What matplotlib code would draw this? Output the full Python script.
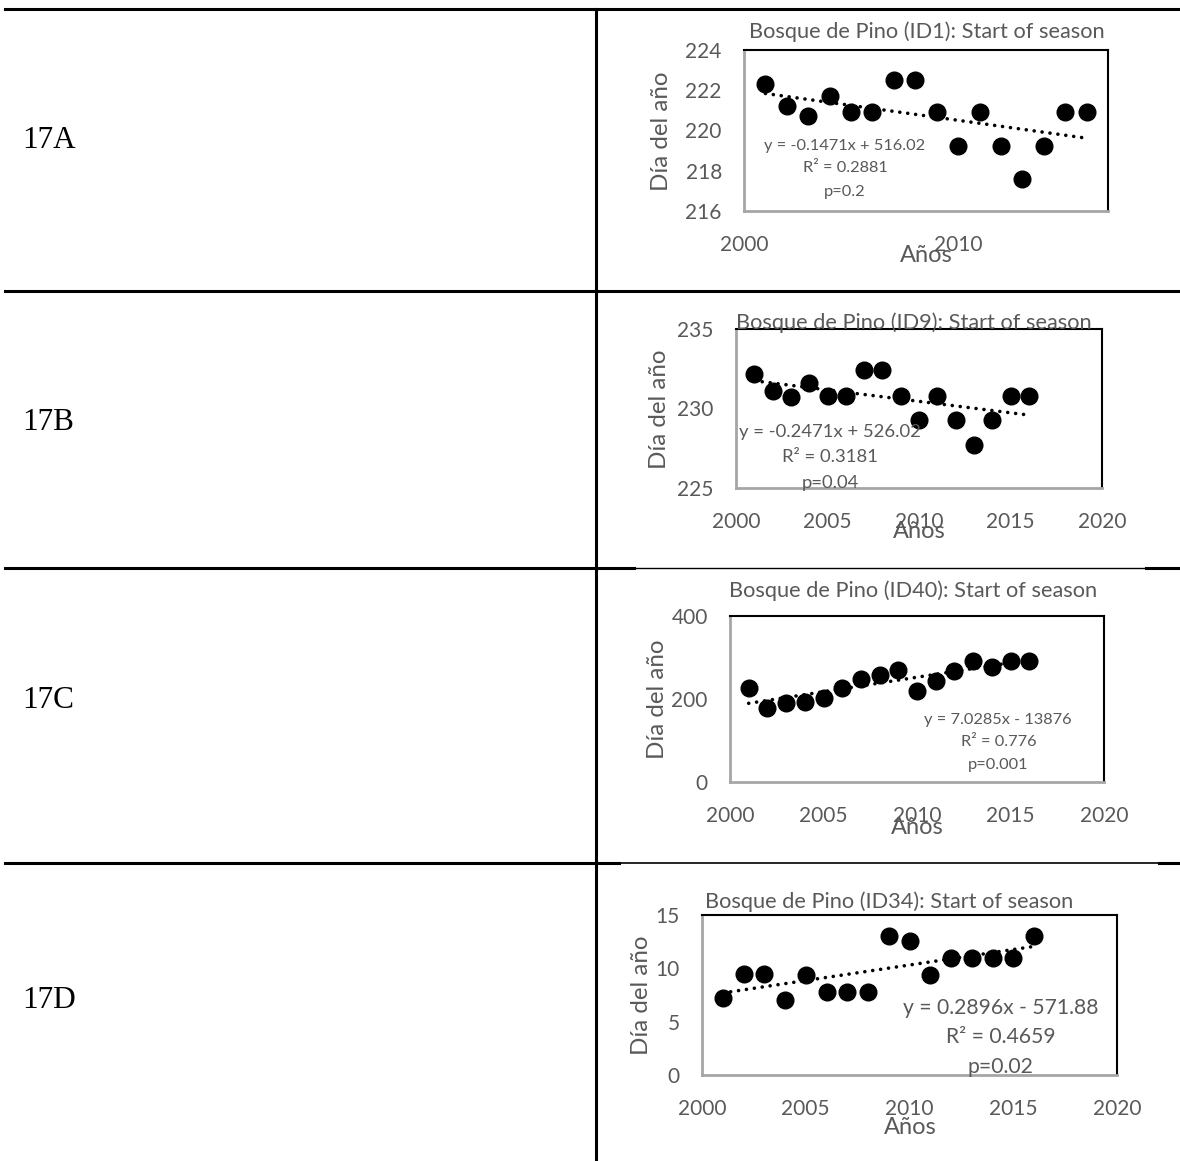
import numpy as np
import matplotlib
matplotlib.use("Agg")
import matplotlib.pyplot as plt

plt.rcParams['font.family'] = ['Lato', 'DejaVu Sans']

# ---- data ----
years = [2001, 2002, 2003, 2004, 2005, 2006, 2007, 2008,
         2009, 2010, 2011, 2012, 2013, 2014, 2015, 2016]

sos_id1 = [222.3, 221.2, 220.7, 221.7, 220.9, 220.9, 222.5, 222.5,
           220.9, 219.25, 220.9, 219.25, 217.6, 219.25, 220.9, 220.9]
sos_id9 = [232.2, 231.1, 230.7, 231.6, 230.8, 230.8, 232.4, 232.4,
           230.8, 229.25, 230.8, 229.25, 227.7, 229.25, 230.8, 230.8]
sos_id40 = [226, 179, 191, 192, 203, 226, 247, 257,
            269, 220, 243, 268, 291, 278, 291, 291]
sos_id34 = [7.2, 9.5, 9.5, 7.0, 9.4, 7.8, 7.8, 7.8,
            13.0, 12.6, 9.4, 11.0, 11.0, 11.0, 11.0, 13.0]

row_labels = ["17A", "17B", "17C", "17D"]
titles = ["Bosque de Pino (ID1): Start of season",
          "Bosque de Pino (ID9): Start of season",
          "Bosque de Pino (ID40): Start of season",
          "Bosque de Pino (ID34): Start of season"]
equations = [["y = -0.1471x + 516.02", "R\u00b2 = 0.2881", "p=0.2"],
             ["y = -0.2471x + 526.02", "R\u00b2 = 0.3181", "p=0.04"],
             ["y = 7.0285x - 13876", "R\u00b2 = 0.776", "p=0.001"],
             ["y = 0.2896x - 571.88", "R\u00b2 = 0.4659", "p=0.02"]]
ylims = [(216, 224), (225, 235), (0, 400), (0, 15)]
yticks = [[216, 218, 220, 222, 224], [225, 230, 235], [0, 200, 400], [0, 5, 10, 15]]
xlims = [(2000, 2017), (2000, 2020), (2000, 2020), (2000, 2020)]
xticks = [[2000, 2010], [2000, 2005, 2010, 2015, 2020],
          [2000, 2005, 2010, 2015, 2020], [2000, 2005, 2010, 2015, 2020]]
series = [sos_id1, sos_id9, sos_id40, sos_id34]

# ---- layout (pixels) ----
W, H = 1180, 1161
fig = plt.figure(figsize=(W / 100, H / 100), dpi=100)

# plot-area boxes: left, top, right, bottom
boxes = [(744, 50, 1108, 211), (736, 329, 1102, 488),
         (730, 616, 1104, 782), (702, 915, 1117, 1075)]
title_pos = [(927, 32), (914, 323), (913, 591), (889, 902)]
ylab_pos = [(662, 131), (659, 409), (657, 699), (641, 995)]
xlab_pos = [(926, 255), (919, 532), (917, 828), (910, 1127)]
eq_pos = [[(845, 146), (845, 168), (845, 192)],
          [(830, 432), (830, 457), (830, 483)],
          [(998, 720), (999, 742), (998, 765)],
          [(1001, 1008), (1001, 1037), (1000, 1067)]]
eq_size = [11.8, 13.3, 11.8, 15.2]
row_y = [140, 422, 700, 1000]

GREY = "#595959"


def ptext(x, y, s, **kw):
    kw.setdefault("ha", "center")
    kw.setdefault("va", "center")
    fig.text(x / W, 1 - y / H, s, **kw)


# table lines on an overlay axes
bg = fig.add_axes([0, 0, 1, 1], zorder=0)
bg.set_xlim(0, W)
bg.set_ylim(H, 0)
bg.axis("off")
bg.plot([5, W], [9, 9], color="black", lw=2.2)
bg.plot([5, W], [291, 291], color="black", lw=2.2)
bg.plot([5, 634], [568, 568], color="black", lw=2.2)
bg.plot([634, 1146], [568, 568], color="black", lw=1)
bg.plot([1146, W], [568, 568], color="black", lw=2.2)
bg.plot([5, 619], [863, 863], color="black", lw=2.2)
bg.plot([619, 1159], [863, 863], color="black", lw=1.2)
bg.plot([1159, W], [863, 863], color="black", lw=2.2)
bg.plot([596, 596], [9, H], color="black", lw=2.2)

for i in range(4):
    ptext(22, row_y[i], row_labels[i], ha="left", fontsize=22.5,
          family=["Liberation Serif"], color="black")

    l, t, r, b = boxes[i]
    ax = fig.add_axes([l / W, 1 - b / H, (r - l) / W, (b - t) / H], zorder=2)
    ax.set_facecolor("none")
    yrs = np.array(years)
    vals = np.array(series[i])
    ax.plot(yrs, vals, "o", color="black", ms=12, zorder=3)
    k, c = np.polyfit(yrs, vals, 1)
    ax.plot([yrs[0], yrs[-1]], [k * yrs[0] + c, k * yrs[-1] + c], color="black",
            lw=2.6, linestyle=(0, (0.01, 2.2)), dash_capstyle="round", zorder=4)
    ax.set_xlim(*xlims[i])
    ax.set_ylim(*ylims[i])
    ax.set_xticks(xticks[i])
    ax.set_yticks(yticks[i])
    ax.tick_params(length=0, labelsize=15, labelcolor=GREY)
    ax.tick_params(axis="x", pad=17)
    ax.tick_params(axis="y", pad=16)
    for s in ("top", "right"):
        ax.spines[s].set_color("black")
        ax.spines[s].set_linewidth(1.5)
    for s in ("left", "bottom"):
        ax.spines[s].set_color("#A6A6A6")
        ax.spines[s].set_linewidth(2)

    ptext(*title_pos[i], titles[i], fontsize=15.7, color=GREY, zorder=5)
    ptext(*ylab_pos[i], "D\u00eda del a\u00f1o".replace("\u00ea", "\u00ed"),
          fontsize=17.4, color=GREY, rotation=90)
    ptext(*xlab_pos[i], "A\u00f1os", fontsize=17, color=GREY, zorder=5)
    for (x, y), s in zip(eq_pos[i], equations[i]):
        ptext(x, y, s, fontsize=eq_size[i], color=GREY, zorder=5)

fig.savefig("out.png", dpi=100)
